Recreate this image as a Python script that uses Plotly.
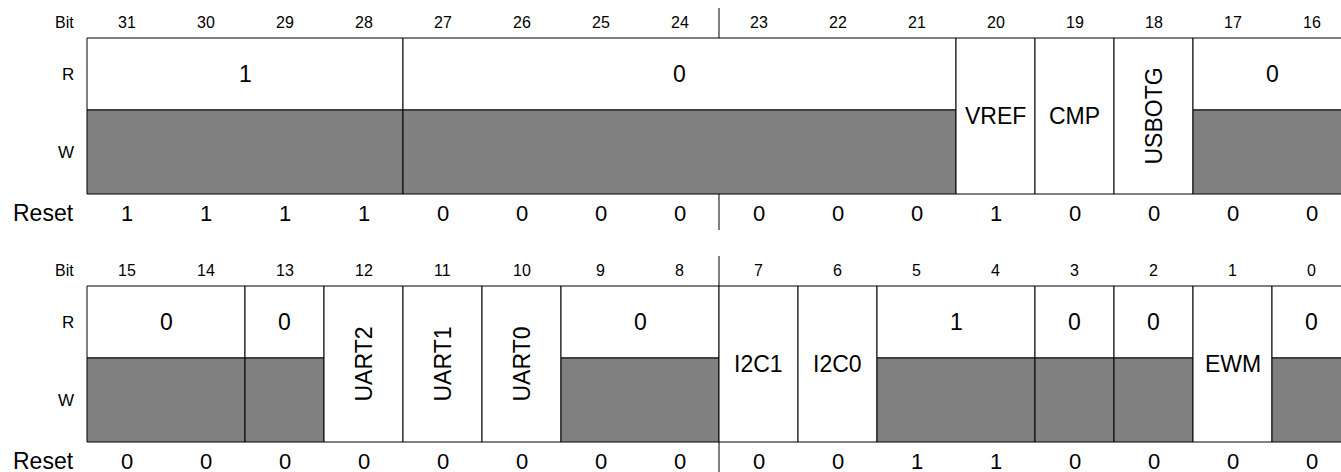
import plotly.graph_objects as go

# Register layout: upper half (bits 31..16) and lower half (bits 15..0)
hi_msb = [31, 27, 20, 19, 18, 17]
hi_lsb = [28, 21, 20, 19, 18, 16]
hi_text = ["1", "0", "VREF", "CMP", "USBOTG", "0"]
hi_access = ["R", "R", "RW", "RW", "RW", "R"]
hi_reset = [1, 1, 1, 1, 0, 0, 0, 0, 0, 0, 0, 1, 0, 0, 0, 0]

lo_msb = [15, 13, 12, 11, 10, 9, 7, 6, 5, 3, 2, 1, 0]
lo_lsb = [14, 13, 12, 11, 10, 8, 7, 6, 4, 3, 2, 1, 0]
lo_text = ["0", "0", "UART2", "UART1", "UART0", "0", "I2C1", "I2C0", "1", "0", "0", "EWM", "0"]
lo_access = ["R", "R", "RW", "RW", "RW", "R", "RW", "RW", "R", "R", "R", "RW", "R"]
lo_reset = [0, 0, 0, 0, 0, 0, 0, 0, 0, 0, 1, 1, 0, 0, 0, 0]

FONT = "Liberation Sans, Arial, Helvetica, sans-serif"
GRAY = "#808080"
W, H = 1341, 472
LEFT, CELL = 87, 79          # pixel x of box left edge, pixel width of one bit
R_H, W_H = 72, 84            # heights of R and W rows

fig = go.Figure()
shapes = []
annots = []


def txt(x, y, s, size, anchor="center", angle=0):
    annots.append(dict(x=x, y=y, text=s, showarrow=False, xref="x", yref="y",
                       xanchor=anchor, yanchor="middle", textangle=angle,
                       font=dict(family=FONT, size=size, color="black")))


def rect(x0, x1, y0, y1, fill):
    shapes.append(dict(type="rect", xref="x", yref="y", x0=x0, x1=x1, y0=y0, y1=y1,
                       fillcolor=fill, line=dict(color="black", width=1), layer="below"))


def draw_half(top_bit, msb, lsb, text, access, reset, y_top):
    y_mid = y_top + R_H
    y_bot = y_mid + W_H
    # left labels
    txt(-0.14, y_top - 16, "Bit", 16, "right")
    txt(-0.14, y_top + R_H / 2, "R", 17, "right")
    txt(-0.14, y_mid + W_H / 2, "W", 17, "right")
    txt(-0.14, y_bot + 19, "Reset", 23, "right")
    # bit numbers and reset values
    for i in range(16):
        txt(i + 0.5, y_top - 16, str(top_bit - i), 16)
        txt(i + 0.5, y_bot + 19, str(reset[i]), 22)
    # fields
    for m, l, t, a in zip(msb, lsb, text, access):
        x0 = top_bit - m
        x1 = top_bit - l + 1
        xc = (x0 + x1) / 2
        if a == "R":
            rect(x0, x1, y_top, y_mid, "white")
            rect(x0, x1, y_mid, y_bot, GRAY)
            txt(xc, y_top + R_H / 2, t, 23)
        else:
            rect(x0, x1, y_top, y_bot, "white")
            txt(xc, (y_top + y_bot) / 2, t, 23, angle=-90 if len(t) > 4 else 0)
    # byte separator ticks
    shapes.append(dict(type="line", xref="x", yref="y", x0=8, x1=8, y0=y_top - 30, y1=y_top,
                       line=dict(color="black", width=1)))
    shapes.append(dict(type="line", xref="x", yref="y", x0=8, x1=8, y0=y_bot, y1=y_bot + 36,
                       line=dict(color="black", width=1)))


draw_half(31, hi_msb, hi_lsb, hi_text, hi_access, hi_reset, 38)
draw_half(15, lo_msb, lo_lsb, lo_text, lo_access, lo_reset, 286)

fig.update_layout(
    width=W, height=H, autosize=False,
    margin=dict(l=0, r=0, t=0, b=0),
    paper_bgcolor="white", plot_bgcolor="white",
    showlegend=False,
    shapes=shapes, annotations=annots,
    xaxis=dict(range=[-LEFT / CELL, (W - LEFT) / CELL], visible=False, fixedrange=True),
    yaxis=dict(range=[H, 0], visible=False, fixedrange=True),
)

fig.write_html("out.html", config={"displayModeBar": False},
               post_script="document.body.style.margin='0';document.body.style.overflow='hidden';")
